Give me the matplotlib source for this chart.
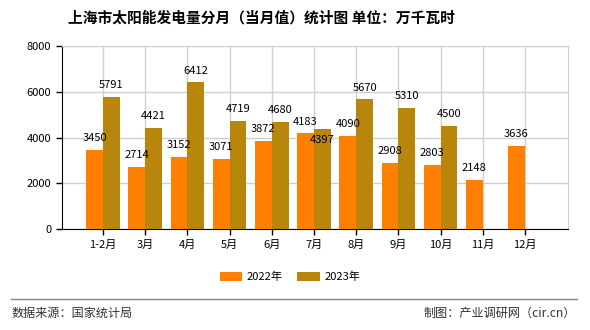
import matplotlib.pyplot as plt
import numpy as np

plt.rcParams['font.family'] = ['Noto Sans CJK SC', 'DejaVu Sans']

months = ['1-2月', '3月', '4月', '5月', '6月', '7月', '8月', '9月', '10月', '11月', '12月']
v2022 = [3450, 2714, 3152, 3071, 3872, 4183, 4090, 2908, 2803, 2148, 3636]
v2023 = [5791, 4421, 6412, 4719, 4680, 4397, 5670, 5310, 4500]

c2022 = '#FF8000'
c2023 = '#B8860B'

fig = plt.figure(figsize=(5.9, 3.3), dpi=100)
ax = fig.add_axes([61.7 / 590, 1 - 229.3 / 330, (568 - 61.7) / 590, (229.3 - 46) / 330])

x = np.arange(len(months))
w = 0.40
b1 = ax.bar(x - w / 2, v2022, w, color=c2022, label='2022年', zorder=3)
b2 = ax.bar(x[:len(v2023)] + w / 2, v2023, w, color=c2023, label='2023年', zorder=3)

for bars, vals in ((b1, v2022), (b2, v2023)):
    for r, v in zip(bars, vals):
        y = v + 300
        # the label that would collide with its neighbour is pushed down, as in the source
        if bars is b2 and r.get_x() > 4.9 and r.get_x() < 5.9:
            y = v - 700
        ax.text(r.get_x() + r.get_width() / 2, y, str(v), ha='center', va='bottom',
                fontsize=8, color='black', zorder=4)

ax.set_xlim(-0.98, 11.02)
ax.set_ylim(0, 8000)
ax.set_yticks([0, 2000, 4000, 6000, 8000])
ax.set_xticks(x)
ax.set_xticklabels(months)
ax.tick_params(axis='both', labelsize=8, length=4, width=1, colors='black', direction='out')
ax.grid(True, color='#d0d0d0', linewidth=1, zorder=0)
for s in ('top', 'right'):
    ax.spines[s].set_color('#d0d0d0')
for s in ('left', 'bottom'):
    ax.spines[s].set_color('black')

fig.text(261 / 590, 1 - 18 / 330, '上海市太阳能发电量分月（当月值）统计图 单位：万千瓦时', ha='center', va='center',
         fontsize=10.6, fontweight='bold')

fig.legend(handles=[b1, b2], loc='center', bbox_to_anchor=(290 / 590, 1 - 277 / 330), ncol=2,
           frameon=False, fontsize=8, handlelength=2.0, handleheight=0.8, columnspacing=1.3,
           handletextpad=0.45)

fig.add_artist(plt.Line2D([10.6 / 590, 577 / 590], [1 - 299 / 330] * 2, color='#888888', linewidth=1))
fig.text(12 / 590, 1 - 313 / 330, '数据来源：国家统计局', ha='left', va='center', fontsize=8.7, color='#333333')
fig.text(576 / 590, 1 - 313 / 330, '制图：产业调研网（cir.cn）', ha='right', va='center', fontsize=8.7, color='#333333')

fig.savefig('out.png', dpi=100)
